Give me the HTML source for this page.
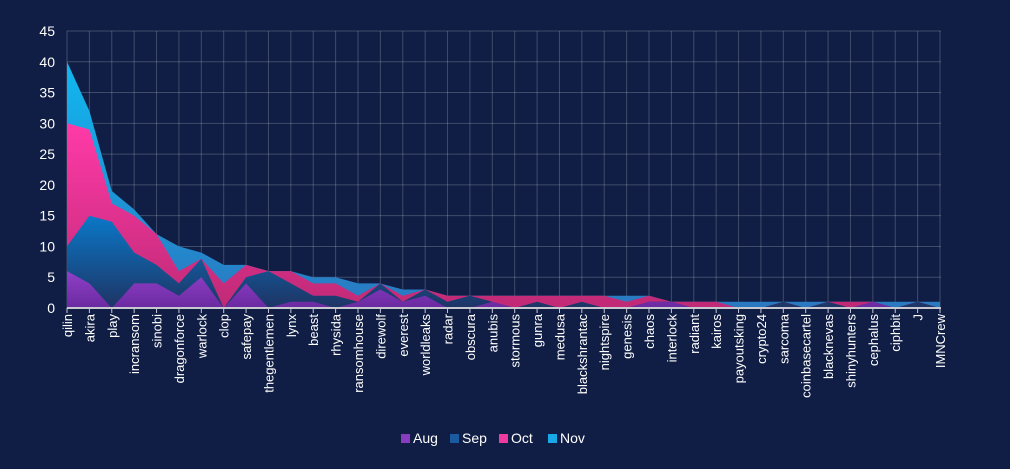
<!DOCTYPE html>
<html><head><meta charset="utf-8"><style>
html,body{margin:0;padding:0;background:#101e45;}
svg{display:block;font-family:"Liberation Sans",sans-serif;}
</style></head><body>
<svg id="c" width="1010" height="469" xmlns="http://www.w3.org/2000/svg">
<defs>
<linearGradient id="gA" x1="0" y1="0" x2="0" y2="1"><stop offset="0" stop-color="#9040c8"/><stop offset="1" stop-color="#6a2aa0"/></linearGradient>
<linearGradient id="gS" x1="0" y1="0" x2="0" y2="1"><stop offset="0" stop-color="#0a78c8"/><stop offset="1" stop-color="#1e3464"/></linearGradient>
<linearGradient id="gO" x1="0" y1="0" x2="0" y2="1"><stop offset="0" stop-color="#ff3aa8"/><stop offset="1" stop-color="#c02a76"/></linearGradient>
<linearGradient id="gN" x1="0" y1="0" x2="0" y2="1"><stop offset="0" stop-color="#10b8f0"/><stop offset="1" stop-color="#2a78c0"/></linearGradient>
</defs>
<rect width="1010" height="469" fill="#101e45"/>
</svg>
<script>
const names=["qilin","akira","play","incransom","sinobi","dragonforce","warlock","clop","safepay","thegentlemen","lynx","beast","rhysida","ransomhouse","direwolf","everest","worldleaks","radar","obscura","anubis","stormous","gunra","medusa","blackshrantac","nightspire","genesis","chaos","interlock","radiant","kairos","payoutsking","crypto24","sarcoma","coinbasecartel","blacknevas","shinyhunters","cephalus","ciphbit","J","IMNCrew"];
const cum=[[6,10,30,40],[4,15,29,32],[0,14,17,19],[4,9,15,16],[4,7,12,12],[2,4,6,10],[5,8,8,9],[0,0,4,7],[4,5,7,7],[0,6,6,6],[1,4,6,6],[1,2,4,5],[0,2,4,5],[1,1,2,4],[3,4,4,4],[1,1,2,3],[2,3,3,3],[0,1,2,2],[0,2,2,2],[1,1,2,2],[0,0,2,2],[0,1,2,2],[0,0,2,2],[0,1,2,2],[0,0,2,2],[0,0,1,2],[1,1,2,2],[1,1,1,1],[0,0,1,1],[0,0,1,1],[0,0,0,1],[0,0,0,1],[0,1,1,1],[0,0,0,1],[0,1,1,1],[0,0,1,1],[1,1,1,1],[0,0,0,1],[0,1,1,1],[0,0,0,1]];
const x0=67,dx=(940-67)/39,y0=308,k=277/45;
const X=i=>x0+i*dx,Y=v=>y0-v*k;
const s=document.getElementById('c');let h='';
for(let v=0;v<=45;v+=5){h+=`<line x1="${x0}" x2="941" y1="${Y(v)}" y2="${Y(v)}" stroke="rgba(255,255,255,0.2)"/>`;
h+=`<text x="55" y="${Y(v)+5}" fill="#fff" font-size="14" text-anchor="end">${v}</text>`;}
for(let i=0;i<40;i++)h+=`<line x1="${X(i)}" x2="${X(i)}" y1="31" y2="${y0}" stroke="rgba(255,255,255,0.2)"/>`;
const fills=["url(#gN)","url(#gO)","url(#gS)","url(#gA)"];
for(let sIdx=3;sIdx>=0;sIdx--){let d='M'+X(0)+','+y0;for(let i=0;i<40;i++)d+=' L'+X(i).toFixed(1)+','+Y(cum[i][sIdx]).toFixed(1);d+=' L'+X(39)+','+y0+'Z';h+=`<path d="${d}" fill="${fills[3-sIdx]}"/>`;}
h+=`<line x1="${x0}" x2="941" y1="${y0}" y2="${y0}" stroke="#c8c8d0" stroke-width="2"/>`;
for(let i=0;i<40;i++){h+=`<line x1="${X(i)}" x2="${X(i)}" y1="${y0}" y2="${y0+5}" stroke="#c8c8d0"/>`;
h+=`<text transform="translate(${X(i)+5},${y0+6}) rotate(-90)" fill="#fff" font-size="13" text-anchor="end">${names[i]}</text>`;}
const leg=[["Aug","#8a3cc0"],["Sep","#1a5aa0"],["Oct","#f03aa0"],["Nov","#18a8e8"]];let lx=401;
leg.forEach(([n,c])=>{h+=`<rect x="${lx}" y="434" width="9" height="9" fill="${c}"/><text x="${lx+12}" y="443" fill="#fff" font-size="14">${n}</text>`;lx+=49;});
s.insertAdjacentHTML('beforeend',h);
</script>
</body></html>
